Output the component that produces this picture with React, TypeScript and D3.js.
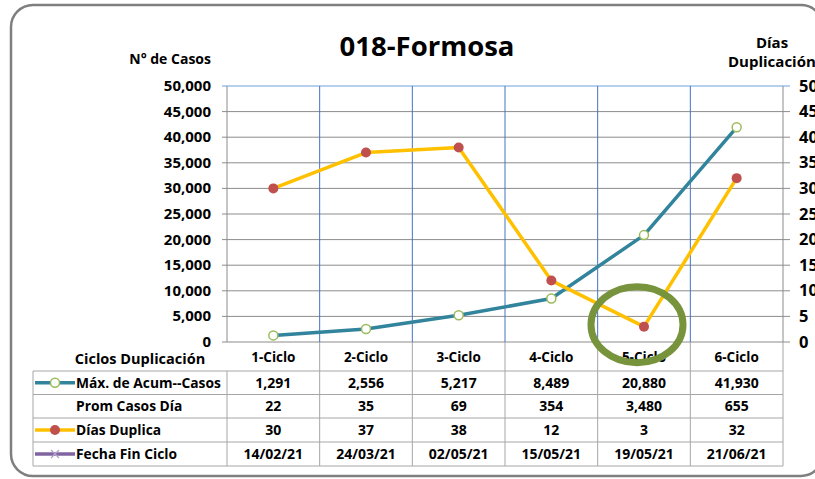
import * as d3 from 'd3'

// chart data
const categories = ['1-Ciclo', '2-Ciclo', '3-Ciclo', '4-Ciclo', '5-Ciclo', '6-Ciclo']
const maxCasos = [1291, 2556, 5217, 8489, 20880, 41930]
const promCasosDia = [22, 35, 69, 354, 3480, 655]
const diasDuplica = [30, 37, 38, 12, 3, 32]
const fechaFin = ['14/02/21', '24/03/21', '02/05/21', '15/05/21', '19/05/21', '21/06/21']
const leftTicks = [0, 5000, 10000, 15000, 20000, 25000, 30000, 35000, 40000, 45000, 50000]
const rightTicks = [0, 5, 10, 15, 20, 25, 30, 35, 40, 45, 50]
const highlightIndex = 4

const FONT = '"Open Sans", "DejaVu Sans", sans-serif'
const TEAL = '#31849B'
const GOLD = '#FFC000'
const RED = '#C0504D'
const GREEN_MK = '#9BBB59'
const PURPLE = '#8064A2'
const GRID = '#8C8C8C'
const TABLE = '#A6A6A6'
const SEP = '#4472C4'

export default function App() {
  const width = 815
  const height = 479
  const plot = { left: 227, right: 783, top: 86, bottom: 342 }

  const x = d3.scaleBand<string>().domain(categories).range([plot.left, plot.right]).padding(0)
  const cx = (c: string) => x(c)! + x.bandwidth() / 2
  const yL = d3.scaleLinear().domain([0, 50000]).range([plot.bottom, plot.top])
  const yR = d3.scaleLinear().domain([0, 50]).range([plot.bottom, plot.top])
  const fmt = d3.format(',')

  const casosLine = d3.line<number>().x((_, i) => cx(categories[i])).y(d => yL(d))
  const diasLine = d3.line<number>().x((_, i) => cx(categories[i])).y(d => yR(d))

  // table geometry
  const tableLeft = 33
  const headerTop = plot.bottom
  const rowTops = [371, 394.5, 418, 442, 466]
  const rows = [
    { label: 'Máx. de Acum--Casos', values: maxCasos.map(fmt), legend: 'casos' },
    { label: 'Prom Casos Día', values: promCasosDia.map(fmt), legend: '' },
    { label: 'Días Duplica', values: diasDuplica.map(String), legend: 'dias' },
    { label: 'Fecha Fin Ciclo', values: fechaFin, legend: 'fecha' },
  ]

  const hx = cx(categories[highlightIndex]) - 7
  const hy = yR(diasDuplica[highlightIndex]) - 2

  return (
    <svg width={width} height={height} style={{ position: 'absolute', left: 0, top: 0, background: '#fff' }}
      fontFamily={FONT}>
      <rect x={11} y={5} width={812} height={471} rx={22} fill="#fff" stroke="#7F7F7F" strokeWidth={2.5} />

      {/* title + axis titles */}
      <text x={427} y={56} textAnchor="middle" fontSize={27.5} fontWeight={700} fill="#000">018-Formosa</text>
      <text x={211} y={64} textAnchor="end" fontSize={14} fontWeight={700}>N° de Casos</text>
      <text x={772} y={48} textAnchor="middle" fontSize={15} fontWeight={700}>Días</text>
      <text x={728} y={67} textAnchor="start" fontSize={15} fontWeight={700}>Duplicación</text>

      {/* gridlines */}
      {leftTicks.map(t => (
        <line key={'g' + t} x1={plot.left - 5} x2={plot.right + 7} y1={yL(t)} y2={yL(t)}
          stroke={t === 50000 ? '#6FA0DC' : GRID} strokeWidth={1} />
      ))}
      {/* category separators */}
      {categories.slice(1).map(c => (
        <line key={'s' + c} x1={x(c)} x2={x(c)} y1={plot.top} y2={plot.bottom} stroke={SEP} strokeWidth={1} />
      ))}
      <line x1={plot.left} x2={plot.left} y1={plot.top} y2={plot.bottom} stroke={GRID} />
      <line x1={plot.right} x2={plot.right} y1={plot.top} y2={plot.bottom} stroke={GRID} />

      {/* axis labels */}
      {leftTicks.map(t => (
        <text key={'l' + t} x={211} y={yL(t) + 5} textAnchor="end" fontSize={15} fontWeight={700}>{fmt(t)}</text>
      ))}
      {rightTicks.map(t => (
        <text key={'r' + t} x={799} y={yR(t) + 5.5} textAnchor="start" fontSize={16.5} fontWeight={700}>{t}</text>
      ))}

      {/* series */}
      <path d={casosLine(maxCasos)!} fill="none" stroke={TEAL} strokeWidth={3.5} strokeLinejoin="round" />
      <path d={diasLine(diasDuplica)!} fill="none" stroke={GOLD} strokeWidth={3.5} strokeLinejoin="round" />
      {maxCasos.map((v, i) => (
        <circle key={'c' + i} cx={cx(categories[i])} cy={yL(v)} r={4.5} fill="#fff" stroke={GREEN_MK} strokeWidth={1.5} />
      ))}
      {diasDuplica.map((v, i) => (
        <circle key={'d' + i} cx={cx(categories[i])} cy={yR(v)} r={5} fill={RED} />
      ))}

      {/* data table */}
      <text x={140} y={364} textAnchor="middle" fontSize={14.5} fontWeight={700}>Ciclos Duplicación</text>
      {categories.map(c => (
        <text key={'h' + c} x={cx(c)} y={362} textAnchor="middle" fontSize={13.5} fontWeight={700}>{c}</text>
      ))}
      {categories.slice(1).concat(['end']).map(c => {
        const xx = c === 'end' ? plot.right : x(c)!
        return <line key={'hv' + c} x1={xx} x2={xx} y1={headerTop} y2={rowTops[0]} stroke={TABLE} />
      })}
      {rowTops.map(t => (
        <line key={'rt' + t} x1={tableLeft} x2={plot.right} y1={t} y2={t} stroke={TABLE} />
      ))}
      {[tableLeft, plot.left, ...categories.slice(1).map(c => x(c)!), plot.right].map((xx, i) => (
        <line key={'tv' + i} x1={xx} x2={xx} y1={rowTops[0]} y2={rowTops[4]} stroke={TABLE} />
      ))}
      {rows.map((r, ri) => {
        const top = rowTops[ri]
        const mid = (top + rowTops[ri + 1]) / 2
        return (
          <g key={'row' + ri}>
            {r.legend === 'casos' && (
              <g>
                <line x1={35} x2={75} y1={mid} y2={mid} stroke={TEAL} strokeWidth={3.5} />
                <circle cx={55} cy={mid} r={4.5} fill="#fff" stroke={GREEN_MK} strokeWidth={1.5} />
              </g>
            )}
            {r.legend === 'dias' && (
              <g>
                <line x1={35} x2={75} y1={mid} y2={mid} stroke={GOLD} strokeWidth={3.5} />
                <circle cx={55} cy={mid} r={5} fill={RED} />
              </g>
            )}
            {r.legend === 'fecha' && (
              <g>
                <line x1={35} x2={75} y1={mid} y2={mid} stroke={PURPLE} strokeWidth={3.5} />
                <path d={`M51,${mid - 4}L59,${mid + 4}M51,${mid + 4}L59,${mid - 4}`} stroke="#B3A2C7" strokeWidth={1.2} />
              </g>
            )}
            <text x={76} y={mid + 5} fontSize={13.8} fontWeight={700}>{r.label}</text>
            {r.values.map((v, i) => (
              <text key={i} x={cx(categories[i])} y={mid + 5} textAnchor="middle" fontSize={14} fontWeight={700}>{v}</text>
            ))}
          </g>
        )
      })}

      {/* highlight ring */}
      <ellipse cx={hx} cy={hy} rx={46} ry={38} fill="none" stroke="#77933C" strokeWidth={7} />
    </svg>
  )
}
